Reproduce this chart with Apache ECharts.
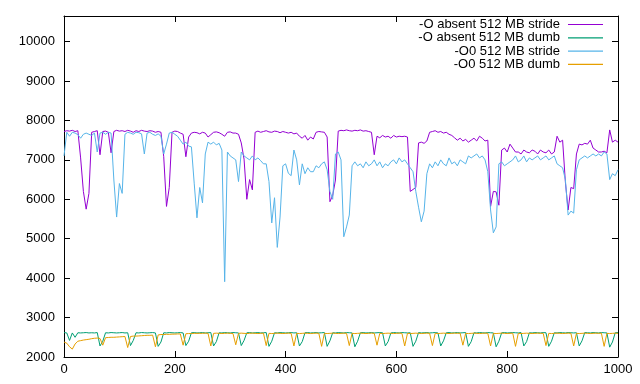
<!DOCTYPE html>
<html><head><meta charset="utf-8">
<script src="https://cdn.jsdelivr.net/npm/echarts@6/dist/echarts.min.js"></script>
<style>html,body{margin:0;padding:0;background:#fff}#c{width:640px;height:384px}</style>
</head><body><div id="c"></div>
<script>
const seriesNames = ['-O absent 512 MB stride', '-O absent 512 MB dumb', '-O0 512 MB stride', '-O0 512 MB dumb'];
const seriesColors = ['#9400D3', '#009E73', '#56B4E9', '#E69F00'];
const xStep = 5; // samples every 5 units, x = 0..1000
const xTicks = [0, 200, 400, 600, 800, 1000];
const yTicks = [2000, 3000, 4000, 5000, 6000, 7000, 8000, 9000, 10000];

const absentStride = [
7720,7740,7730,7750,7720,7740,7050,6200,5750,6150,
7700,7720,7740,7130,7720,7730,7700,7180,7720,7750,
7730,7740,7720,7750,7730,7700,7740,7720,7750,7730,
7720,7740,7730,7700,7720,7700,7080,5820,6300,7700,
7730,7720,7680,7650,7080,7580,7680,7700,7690,7660,
7700,7680,7580,7640,7700,7710,7690,7650,7600,7700,
7710,7680,7680,7650,7430,7020,6000,6500,6240,7700,
7730,7700,7720,7740,7710,7700,7730,7720,7690,7720,
7700,7680,7700,7660,7680,7600,7550,7620,7500,7580,
7530,7700,7720,7710,7700,7580,5940,6100,6490,7730,
7750,7740,7760,7740,7730,7750,7740,7760,7730,7740,
7720,7700,7130,7600,7560,7620,7580,7600,7550,7620,
7580,7600,7590,7600,7580,6200,6250,6300,7430,7450,
7420,7480,7700,7720,7740,7700,7720,7680,7700,7650,
7620,7560,7500,7550,7480,7520,7450,7500,7550,7480,
7600,7550,7480,7500,5820,6200,6190,5850,7250,7300,
7200,7400,7300,7200,7200,7150,7250,7200,7180,7250,
7220,7150,7250,7200,7180,7250,7150,7200,7600,7450,
7500,6440,5730,6300,6270,7150,7400,7380,7420,7400,
7500,7300,7250,7200,7200,7220,7180,7760,7450,7500,
7450];

const absentDumb = [
2620,2610,2420,2610,2500,2615,2610,2615,2620,2610,
2615,2610,2620,2280,2400,2615,2610,2620,2615,2610,
2615,2620,2610,2615,2290,2420,2615,2610,2620,2615,
2610,2615,2620,2610,2270,2380,2615,2610,2620,2615,
2610,2615,2620,2610,2290,2400,2615,2620,2610,2615,
2620,2610,2615,2620,2280,2390,2615,2610,2620,2615,
2610,2620,2615,2610,2290,2420,2615,2620,2610,2615,
2620,2610,2615,2620,2270,2400,2615,2610,2620,2615,
2610,2615,2620,2610,2615,2280,2390,2615,2620,2610,
2615,2620,2610,2615,2620,2270,2410,2615,2610,2620,
2615,2610,2620,2615,2610,2260,2400,2615,2620,2610,
2615,2620,2610,2615,2620,2615,2280,2390,2610,2620,
2615,2610,2620,2615,2610,2615,2270,2400,2620,2610,
2615,2620,2610,2615,2620,2610,2280,2410,2615,2620,
2610,2615,2620,2610,2615,2620,2270,2390,2615,2610,
2620,2615,2610,2620,2615,2610,2260,2400,2615,2620,
2610,2615,2620,2615,2610,2620,2280,2390,2615,2610,
2620,2615,2610,2620,2615,2270,2400,2615,2610,2620,
2615,2610,2620,2615,2610,2615,2280,2410,2620,2615,
2610,2620,2615,2610,2620,2615,2610,2250,2380,2615,
2620];

const o0Stride = [
7100,7700,7600,7700,7680,7640,7550,7650,7680,7650,
7620,7680,7200,7680,7700,7650,7700,7680,6490,5550,
6400,6150,7650,7700,7680,7650,7700,7690,7660,7150,
7680,7700,7650,7620,7660,7600,7150,7400,7680,7700,
7650,7600,7500,7400,7450,7350,7330,6410,5530,6300,
5910,7150,7450,7400,7450,7380,7420,7250,3910,7200,
7100,7050,7000,6450,7200,7100,7050,7000,7100,7000,
7050,6980,6900,6900,6450,5400,6040,4780,5550,6850,
6900,6660,6600,7250,7000,6365,6900,6650,6800,6700,
6700,6850,6800,6900,6950,6750,6200,6000,7150,7200,
7000,5050,5300,5600,6850,6950,6850,6900,6800,6950,
6850,6900,7000,6850,6950,6800,6900,6850,6950,7000,
6900,7050,6950,7000,6900,6800,6700,6200,5800,5430,
5700,6650,6900,6800,6950,6850,7000,6900,6850,7050,
6900,6950,6850,7000,6950,6900,7100,7050,7100,7150,
7050,7100,7000,6700,5730,5150,5300,6900,6950,6850,
6900,6950,7000,7100,6950,7000,7100,6950,7050,7000,
7050,7100,7000,7050,7100,7000,7050,7100,6900,6850,
6800,6500,5600,5700,5650,6750,7000,7050,7100,7050,
7100,7150,7100,7150,7100,7200,7150,6500,6650,6600,
6750];

const o0Dumb = [
2380,2350,2260,2200,2330,2400,2415,2430,2440,2450,
2465,2475,2480,2470,2300,2490,2495,2500,2500,2505,
2510,2515,2520,2240,2520,2530,2530,2535,2540,2545,
2550,2550,2555,2260,2560,2570,2570,2575,2575,2580,
2580,2585,2585,2300,2590,2595,2595,2600,2600,2600,
2600,2605,2600,2280,2600,2605,2600,2595,2600,2605,
2600,2595,2310,2600,2605,2600,2595,2600,2605,2600,
2595,2600,2605,2290,2600,2595,2600,2605,2600,2595,
2600,2605,2600,2280,2600,2595,2600,2605,2600,2595,
2600,2605,2600,2270,2600,2595,2600,2605,2600,2595,
2600,2605,2600,2290,2600,2595,2600,2605,2600,2595,
2600,2605,2600,2300,2600,2595,2600,2605,2600,2595,
2600,2605,2600,2280,2600,2595,2600,2605,2600,2595,
2600,2605,2600,2290,2600,2595,2600,2605,2600,2595,
2600,2605,2600,2605,2300,2600,2595,2600,2605,2600,
2595,2600,2605,2600,2280,2600,2595,2600,2605,2600,
2595,2600,2605,2270,2600,2595,2600,2605,2600,2595,
2600,2605,2600,2600,2290,2600,2595,2600,2605,2600,
2595,2600,2605,2600,2280,2600,2595,2600,2605,2600,
2595,2600,2605,2600,2605,2270,2600,2595,2600,2605,
2600];

const seriesValues = [absentStride, absentDumb, o0Stride, o0Dumb];

const FONT = "'Liberation Sans', Arial, Helvetica, sans-serif";
const chart = echarts.init(document.getElementById('c'), null, {renderer: 'canvas'});
const toPairs = arr => arr.map((v, i) => [i * xStep, v]);

const lineStyle = {color: '#000', width: 1};
const tick = {show: true, inside: true, length: 6, lineStyle: {color: '#000', width: 1}};
const xBase = {type: 'value', min: xTicks[0], max: xTicks[xTicks.length - 1], interval: xTicks[1] - xTicks[0],
  splitLine: {show: false}, axisLine: {show: true, onZero: false, lineStyle}, axisTick: tick};
const yBase = {type: 'value', min: yTicks[0], max: 10650, interval: yTicks[1] - yTicks[0],
  splitLine: {show: false}, axisLine: {show: true, onZero: false, lineStyle}, axisTick: tick};

const option = {
  animation: false,
  backgroundColor: '#fff',
  grid: {left: 64, right: 22, top: 16, bottom: 27, outerBoundsMode: 'none', containLabel: false},
  xAxis: [
    Object.assign({}, xBase, {position: 'bottom',
      axisLabel: {color: '#000', fontSize: 13, fontFamily: FONT, margin: 6, showMaxLabel: true, hideOverlap: false,
        formatter: v => String(v)}}),
    Object.assign({}, xBase, {position: 'top', axisLabel: {show: false}})
  ],
  yAxis: [
    Object.assign({}, yBase, {position: 'left',
      axisLabel: {color: '#000', fontSize: 13, fontFamily: FONT, margin: 9, showMaxLabel: false,
        formatter: v => (yTicks.indexOf(v) >= 0 ? String(v) : '')}}),
    Object.assign({}, yBase, {position: 'right', axisLabel: {show: false}})
  ],
  legend: seriesNames.map((n, i) => ({
    data: [n], right: 37, top: 18 + i * 13.3, orient: 'horizontal', align: 'right',
    icon: 'rect', itemWidth: 35, itemHeight: 1.2, padding: 0, selectedMode: false,
    textStyle: {color: '#000', fontSize: 13, fontFamily: FONT, padding: [0, 3, 0, 0]}
  })),
  series: seriesNames.map((n, i) => ({
    name: n, type: 'line', xAxisIndex: 0, yAxisIndex: 0,
    data: toPairs(seriesValues[i]), symbol: 'none', showSymbol: false,
    lineStyle: {color: seriesColors[i], width: 1}, itemStyle: {color: seriesColors[i]},
    emphasis: {disabled: true}, silent: true
  }))
};
chart.setOption(option);
</script></body></html>
